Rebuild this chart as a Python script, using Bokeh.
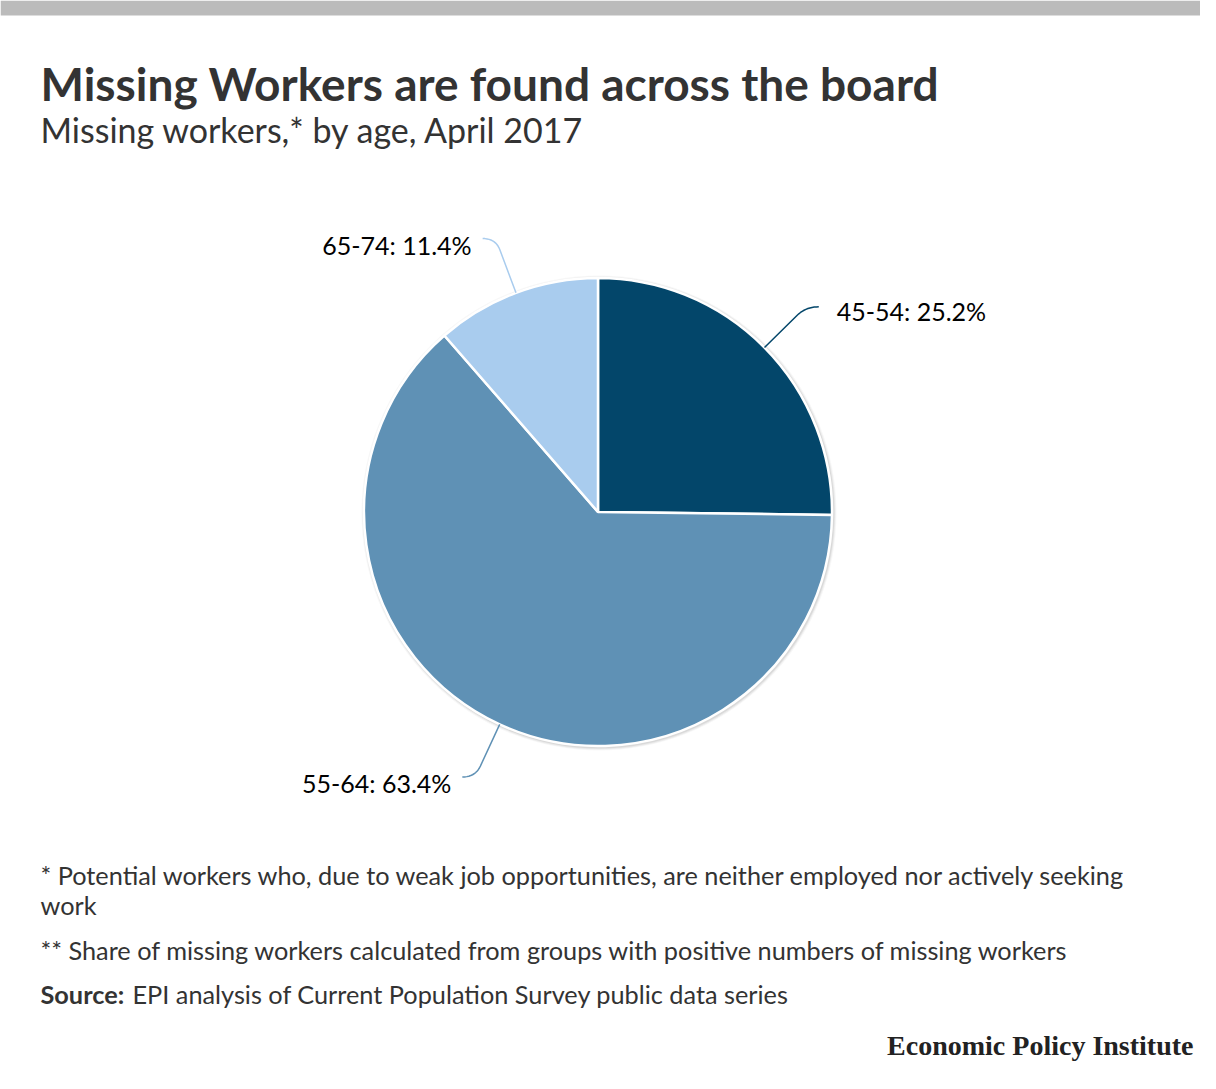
import numpy as np
from bokeh.plotting import figure
from bokeh.models import Range1d, Label, ColumnDataSource
from bokeh.embed import file_html
from bokeh.resources import INLINE

# ---- data ----
age_groups = ["45-54", "55-64", "65-74"]
shares = [25.2, 63.4, 11.4]
colors = ["#03466a", "#5f91b5", "#a9ccee"]

title = "Missing Workers are found across the board"
subtitle = "Missing workers,* by age, April 2017"
note1a = "* Potential workers who, due to weak job opportunities, are neither employed nor actively seeking"
note1b = "work"
note2 = "** Share of missing workers calculated from groups with positive numbers of missing workers"
source_label = "Source:"
source_text = "EPI analysis of Current Population Survey public data series"
brand = "Economic Policy Institute"

# ---- canvas (pixel-like coordinates) ----
W, H = 1200, 1073


def X(px):
    return px


def Y(py):
    return H - py


FONT = "Lato"

p = figure(width=W, height=H, x_range=Range1d(0, W), y_range=Range1d(0, H),
           output_backend="svg", toolbar_location=None, min_border=0,
           x_axis_location=None, y_axis_location=None)
p.grid.visible = False
p.outline_line_color = None
p.background_fill_color = "white"
p.border_fill_color = "white"

# top / bottom grey bars
p.quad(left=[0], right=[W], bottom=[Y(15)], top=[Y(0)], color="#bbbbbb", line_color=None)
p.quad(left=[0], right=[W], bottom=[Y(1089)], top=[Y(1081)], color="#bbbbbb", line_color=None)

# ---- pie ----
cx, cy, R = X(597.5), Y(511.5), 234
vals = np.array(shares, dtype=float)
cum = np.concatenate([[0], np.cumsum(vals)]) / vals.sum() * 2 * np.pi
end_angles = np.pi / 2 - cum[:-1]
start_angles = np.pi / 2 - cum[1:]
mids = (start_angles + end_angles) / 2

# soft shadow
for lw, a in [(7, 0.03), (5, 0.05), (3, 0.07)]:
    p.circle(x=[cx + 1], y=[cy - 1], radius=R, fill_color=None,
             line_color="black", line_alpha=a, line_width=lw)

src = ColumnDataSource(dict(start=start_angles, end=end_angles, color=colors,
                            label=age_groups, share=shares))
p.wedge(x=cx, y=cy, radius=R, start_angle="start", end_angle="end",
        fill_color="color", line_color="white", line_width=2.5, source=src)

# ---- leader lines and labels ----
for lab, sh, m, col in zip(age_groups, shares, mids, colors):
    ux, uy = np.cos(m), np.sin(m)
    sgn = 1 if ux > 0 else -1
    e = np.array([cx + R * ux, cy + R * uy])
    p1 = np.array([cx + (R + 46) * ux, cy + (R + 46) * uy])
    pc = np.array([cx + (R + 58) * ux, cy + (R + 58) * uy])
    pe = pc + np.array([sgn * 13, 0])
    t = np.linspace(0, 1, 12)
    bx = (1 - t) ** 2 * p1[0] + 2 * (1 - t) * t * pc[0] + t ** 2 * pe[0]
    by = (1 - t) ** 2 * p1[1] + 2 * (1 - t) * t * pc[1] + t ** 2 * pe[1]
    xs = [e[0]] + list(bx)
    ys = [e[1]] + list(by)
    p.line(xs, ys, line_color=col, line_width=1.5)
    gap = 18 if sgn > 0 else 11
    dy = 4 if sgn > 0 else 6
    p.add_layout(Label(x=pe[0] + sgn * gap, y=pe[1] - dy, text=f"{lab}: {sh}%",
                       text_font=FONT, text_font_size="25px", text_color="#000000",
                       text_align="left" if sgn > 0 else "right",
                       text_baseline="middle"))


# ---- texts ----
def add_text(x, y, txt, size, style="normal", color="#333333", font=FONT, align="left"):
    p.add_layout(Label(x=x, y=y, text=txt, text_font=font, text_font_size=size,
                       text_font_style=style, text_color=color, text_align=align,
                       text_baseline="alphabetic"))


add_text(X(40), Y(100 - 17), title, "46px", "bold")
add_text(X(40), Y(143 - 14), subtitle, "34px")
add_text(X(40), Y(885 - 11), note1a, "25.3px")
add_text(X(40), Y(915 - 11), note1b, "25.3px")
add_text(X(40), Y(960 - 11), note2, "25.3px")
add_text(X(40), Y(1004 - 11), source_label, "25.3px", "bold")
add_text(X(132), Y(1004 - 11), source_text, "25.3px")
add_text(X(1193), Y(1055 - 10), brand, "28px", "bold", "#222222", "Liberation Serif", "right")

open("out.html", "w").write(file_html(p, INLINE))
